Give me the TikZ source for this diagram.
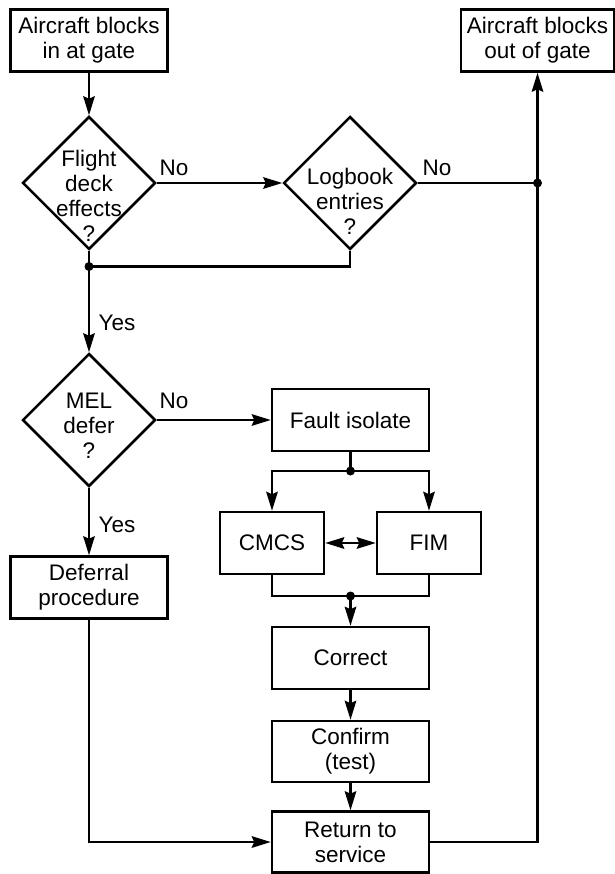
\documentclass[tikz,border=0pt]{standalone}
\usepackage{fontspec}
\setmainfont{Liberation Sans}
\usetikzlibrary{arrows.meta,shapes.geometric}
\newcommand\fsz{\fontsize{22.5}{25}\selectfont}
\begin{document}
\begin{tikzpicture}[x=1pt,y=-1pt,
  line width=2.5pt,
  box/.style={draw,line width=2.5pt,minimum width=157pt,minimum height=62pt,inner sep=0pt,align=center,font=\fsz},
  dia/.style={draw,diamond,shape aspect=1,minimum width=133pt,minimum height=133pt,inner sep=0pt},
  txt/.style={inner sep=0pt,align=center,font=\fsz},
  tip/.tip={Stealth[length=19pt,width=11.5pt,inset=2.5pt]},
  arr/.style={-tip},
  darr/.style={tip-tip},
  jdot/.style={circle,fill,inner sep=0pt,minimum size=9pt},
]
\useasboundingbox (0,0) rectangle (614,874);

\node[box] (in) at (89,40.5) {Aircraft blocks\\in at gate};
\node[box,minimum width=153pt] (out) at (537.5,40.5) {Aircraft blocks\\out of gate};

\node[dia] (fde) at (89,183) {};
\node[txt,anchor=north] (fdet) at (89,149) {Flight\\deck\\effects\\?};
\node[dia] (log) at (350,183) {};
\node[txt,anchor=north] (logt) at (350,167) {Logbook\\entries\\?};
\node[jdot] (j1) at (89,266.5) {};
\node[jdot] (j2) at (537.5,183) {};

\node[dia] (mel) at (89,420) {};
\node[txt,anchor=north] (melt) at (89,392) {MEL\\defer\\?};
\node[box] (fault) at (350.5,420) {Fault isolate};
\node[jdot] (j3) at (350.5,471) {};
\node[box,minimum width=104pt] (cmcs) at (272,543) {CMCS};
\node[box,minimum width=104pt] (fim) at (429,543) {FIM};
\node[jdot] (j4) at (350.5,596) {};
\node[box] (defer) at (89,587.5) {Deferral\\procedure};
\node[box] (correct) at (350.5,658) {Correct};
\node[box,minimum height=61pt] (confirm) at (350.5,751.5) {Confirm\\(test)};
\node[box,minimum height=61pt] (ret) at (350.5,842) {Return to\\service};

\node[txt] (no1) at (174,168) {No};
\node[txt] (no2) at (437,168) {No};
\node[txt] (no3) at (174,401) {No};
\node[txt] (yes1) at (117,323) {Yes};
\node[txt] (yes2) at (117,525) {Yes};

\draw[arr] (in) -- (fde);
\draw[arr] (fde.east) -- (log.west);
\draw (log.east) -- (j2.center);
\draw[arr] (ret.east) -| (out.south);
\draw (fde.south) -- (j1.center);
\draw (log.south) |- (j1.center);
\draw[arr] (j1.center) -- (mel.north);
\draw[arr] (mel.east) -- (fault.west);
\draw[arr] (mel.south) -- (defer.north);
\draw (fault.south) -- (j3.center);
\draw[arr] (j3.center) -| (cmcs.north);
\draw[arr] (j3.center) -| (fim.north);
\draw[darr] (cmcs.east) -- (fim.west);
\draw (cmcs.south) |- (j4.center);
\draw (fim.south) |- (j4.center);
\draw[arr] (j4.center) -- (correct.north);
\draw[arr] (correct) -- (confirm);
\draw[arr] (confirm) -- (ret);
\draw[arr] (defer.south) |- (ret.west);
\end{tikzpicture}
\end{document}
